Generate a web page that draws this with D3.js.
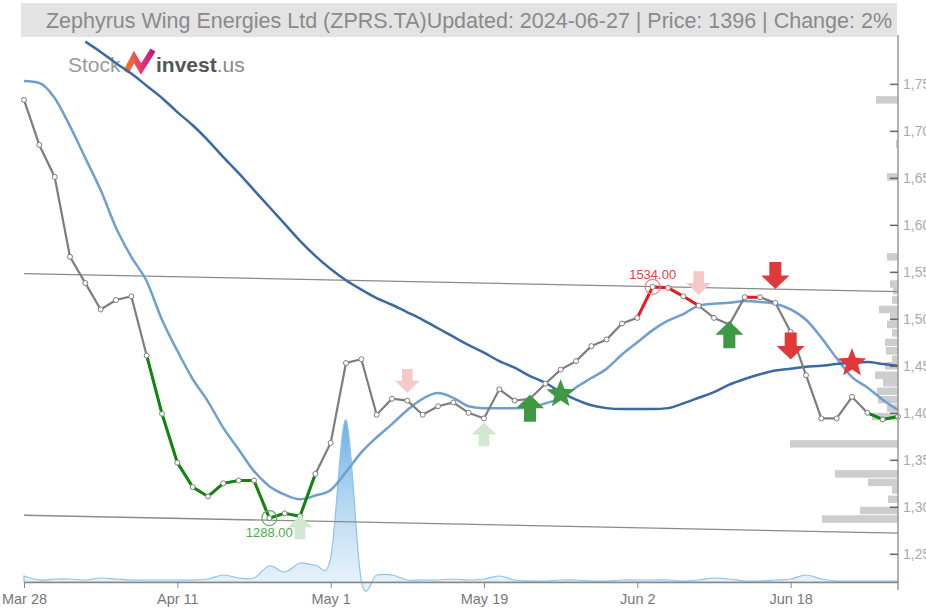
<!DOCTYPE html>
<html>
<head>
<meta charset="utf-8">
<script src="https://cdnjs.cloudflare.com/ajax/libs/d3/7.8.5/d3.min.js"></script>
<style>
  body { margin: 0; background: #fff; }
  svg { display: block; font-family: "Liberation Sans", Arial, sans-serif; }
</style>
</head>
<body>
<div id="chart"></div>
<script>
// Chart values
let titleText = "Zephyrus Wing Energies Ltd (ZPRS.TA)Updated: 2024-06-27 | Price: 1396 | Change: 2%";

// closing prices, one per trading day
let prices = [
  1733, 1685, 1651, 1566, 1538, 1510, 1520, 1524, 1461, 1399,
  1347, 1321, 1311, 1325, 1328, 1328, 1288, 1293, 1290, 1335,
  1368, 1453, 1457, 1398, 1415, 1413, 1398, 1407, 1411, 1400,
  1394, 1425, 1413, 1415, 1431, 1446, 1455, 1471, 1478, 1495,
  1501, 1534, 1533, 1524, 1514, 1501, 1494, 1523, 1523, 1517,
  1486, 1440, 1394, 1394, 1417, 1400, 1393, 1396
];

// short moving average (light blue)
let maShort = [
  1753, 1751, 1735, 1705, 1671, 1637, 1597, 1566, 1540, 1499,
  1466, 1436, 1412, 1384, 1361, 1338, 1322, 1313, 1308, 1312,
  1318, 1337, 1358, 1374, 1388, 1403, 1415, 1421, 1416, 1407,
  1405, 1405, 1405, 1406, 1410, 1416, 1427, 1437, 1447, 1462,
  1475, 1488, 1498, 1505, 1514, 1516, 1517, 1519, 1518, 1516,
  1510, 1499, 1480, 1458, 1438, 1427, 1414, 1403
];

// long moving average (dark blue), starts at day 4
let maLongStart = 4;
let maLong = [
  1795, 1784, 1772, 1761, 1748, 1735, 1720, 1706, 1690, 1672,
  1655, 1637, 1619, 1601, 1583, 1567, 1553, 1541, 1531, 1522,
  1515, 1507, 1499, 1490, 1481, 1472, 1464, 1455, 1448, 1439,
  1432, 1422, 1414, 1408, 1405, 1404, 1404, 1404, 1405, 1410,
  1416, 1422, 1430, 1436, 1441, 1445, 1447, 1449, 1450, 1452,
  1453, 1454, 1452, 1450
];

// daily volume (thousands)
let volumes = [
  6, 2, 3, 3, 2, 4, 3, 2, 2, 2,
  2, 2, 3, 7, 4, 4, 16, 10, 19, 17,
  24, 162, 1, 7, 7, 2, 2, 2, 3, 2,
  3, 6, 2, 1, 1, 2, 2, 1, 1, 2,
  2, 2, 2, 1, 2, 4, 3, 1, 1, 2,
  3, 7, 3, 1, 1, 1, 1, 1
];

let tickIndex = [0, 10, 20, 30, 40, 50];
let tickLabels = ["Mar 28", "Apr 11", "May 1", "May 19", "Jun 2", "Jun 18"];
let priceTicks = [1250, 1300, 1350, 1400, 1450, 1500, 1550, 1600, 1650, 1700, 1750];

// trend lines: price at first and last day
let trendUpper = [1548, 1529];
let trendLower = [1291, 1272];

// coloured stretches of the price line [from, to]
let greenRuns = [[8, 19], [55, 57]];
let redRuns = [[40, 44], [47, 48]];

// signals
let signalIdx = [18, 25, 30, 33, 35, 44, 46, 49, 50, 54];
let signalPrice = [1278, 1434, 1377, 1405, 1420, 1538, 1483, 1546, 1471, 1453];
let signalKind = ["buyWeak", "sellWeak", "buyWeak", "buy", "buyStar", "sellWeak", "buy", "sell", "sell", "sellStar"];

// volume profile on the right
let profilePrice = [1733, 1686, 1651, 1566, 1537, 1530, 1520, 1510, 1502, 1494, 1485, 1475, 1466, 1457,
  1450, 1440, 1432, 1423, 1414, 1405, 1396, 1367, 1335, 1326, 1318, 1308, 1296, 1287];
let profileVol = [22, 2, 11, 11, 8, 5, 6, 19, 8, 11, 6, 13, 12, 6,
  13, 23, 15, 21, 20, 11, 26, 108, 63, 30, 6, 10, 38, 76];

let lowIdx = 16;
let highIdx = 41;

// Layout
let width = 926;
let height = 610;
let plotLeft = 24, plotRight = 898, plotTop = 35, plotBottom = 582;

let svg = d3.select("#chart").append("svg")
  .attr("width", width)
  .attr("height", height);

let x = d3.scaleLinear().domain([0, prices.length - 1]).range([plotLeft, plotRight]);
let y = d3.scaleLinear().domain([1220, 1802]).range([plotBottom, plotTop]);
let vy = d3.scaleLinear().domain([0, d3.max(volumes)]).range([plotBottom, 420]);
let px = d3.scaleLinear().domain([0, d3.max(profileVol)]).range([plotRight, 790]);

let defs = svg.append("defs");
let vg = defs.append("linearGradient").attr("id", "volGrad")
  .attr("x1", 0).attr("y1", 0).attr("x2", 0).attr("y2", 1);
vg.append("stop").attr("offset", "0%").attr("stop-color", "#5aa6e2").attr("stop-opacity", 0.9);
vg.append("stop").attr("offset", "100%").attr("stop-color", "#d6e8f7").attr("stop-opacity", 0.5);

let lg = defs.append("linearGradient").attr("id", "logoGrad")
  .attr("x1", 0).attr("y1", 0).attr("x2", 1).attr("y2", 0);
lg.append("stop").attr("offset", "0%").attr("stop-color", "#f47b20");
lg.append("stop").attr("offset", "55%").attr("stop-color", "#e8366f");
lg.append("stop").attr("offset", "100%").attr("stop-color", "#c3168c");

// Title band
svg.append("rect")
  .attr("x", 21).attr("y", 3)
  .attr("width", 876).attr("height", 34)
  .attr("fill", "#e3e3e3");
svg.append("text")
  .attr("x", 892).attr("y", 28)
  .attr("text-anchor", "end")
  .attr("font-size", 21.5)
  .attr("fill", "#8a8a8a")
  .text(titleText);

// Logo
let logo = svg.append("g");
logo.append("text")
  .attr("x", 68).attr("y", 72)
  .attr("font-size", 21)
  .attr("fill", "#9a9a9a")
  .text("Stock");
logo.append("path")
  .attr("d", "M126,72 L134,57 L141,69 L153,50")
  .attr("fill", "none")
  .attr("stroke", "url(#logoGrad)")
  .attr("stroke-width", 6)
  .attr("stroke-linejoin", "miter");
let lt = logo.append("text")
  .attr("x", 156).attr("y", 72)
  .attr("font-size", 21);
lt.append("tspan").attr("font-weight", "bold").attr("fill", "#555").text("invest");
lt.append("tspan").attr("fill", "#8a8a8a").text(".us");

// Volume profile
svg.append("g").selectAll("rect")
  .data(profilePrice)
  .enter()
  .append("rect")
  .attr("x", (d, i) => px(profileVol[i]))
  .attr("y", d => y(d + 4))
  .attr("width", (d, i) => plotRight - px(profileVol[i]))
  .attr("height", d => y(d - 4) - y(d + 4))
  .attr("fill", "#cdcdcd");

// Volume area
let volArea = d3.area()
  .x((d, i) => x(i))
  .y0(plotBottom)
  .y1(d => vy(d))
  .curve(d3.curveCardinal);
svg.append("path")
  .datum(volumes)
  .attr("d", volArea)
  .attr("fill", "url(#volGrad)")
  .attr("stroke", "#8ec3ec")
  .attr("stroke-width", 1.2);

// Trend lines
[trendUpper, trendLower].forEach(t => {
  svg.append("line")
    .attr("x1", x(0)).attr("y1", y(t[0]))
    .attr("x2", x(prices.length - 1)).attr("y2", y(t[1]))
    .attr("stroke", "#8a8a8a")
    .attr("stroke-width", 1.3);
});

// Moving averages
let line = d3.line().x(d => x(d[0])).y(d => y(d[1])).curve(d3.curveMonotoneX);
svg.append("path")
  .datum(maShort.map((v, i) => [i, v]))
  .attr("d", line)
  .attr("fill", "none")
  .attr("stroke", "#6f9fd0")
  .attr("stroke-width", 2.5);
svg.append("path")
  .datum(maLong.map((v, i) => [i + maLongStart, v]))
  .attr("d", line)
  .attr("fill", "none")
  .attr("stroke", "#3a69a3")
  .attr("stroke-width", 2.5);

// Price line
let priceLine = d3.line().x(d => x(d[0])).y(d => y(d[1]));
let pts = prices.map((v, i) => [i, v]);
svg.append("path")
  .datum(pts)
  .attr("d", priceLine)
  .attr("fill", "none")
  .attr("stroke", "#7d7d7d")
  .attr("stroke-width", 2.2);
greenRuns.forEach(r => {
  svg.append("path")
    .datum(pts.slice(r[0], r[1] + 1))
    .attr("d", priceLine)
    .attr("fill", "none")
    .attr("stroke", "#0c870c")
    .attr("stroke-width", 3);
});
redRuns.forEach(r => {
  svg.append("path")
    .datum(pts.slice(r[0], r[1] + 1))
    .attr("d", priceLine)
    .attr("fill", "none")
    .attr("stroke", "#f01818")
    .attr("stroke-width", 3);
});
svg.append("g").selectAll("circle")
  .data(pts)
  .enter()
  .append("circle")
  .attr("cx", d => x(d[0]))
  .attr("cy", d => y(d[1]))
  .attr("r", 2.5)
  .attr("fill", "#fff")
  .attr("stroke", "#7d7d7d")
  .attr("stroke-width", 1);

// Low / high marks
svg.append("circle")
  .attr("cx", x(lowIdx)).attr("cy", y(prices[lowIdx])).attr("r", 7.5)
  .attr("fill", "none").attr("stroke", "#5cae5c").attr("stroke-width", 1.2);
svg.append("text")
  .attr("x", x(lowIdx)).attr("y", y(prices[lowIdx]) + 19)
  .attr("text-anchor", "middle").attr("font-size", 13).attr("fill", "#4fa84f")
  .text(prices[lowIdx].toFixed(2));
svg.append("circle")
  .attr("cx", x(highIdx)).attr("cy", y(prices[highIdx])).attr("r", 7.5)
  .attr("fill", "none").attr("stroke", "#f08080").attr("stroke-width", 1.2);
svg.append("text")
  .attr("x", x(highIdx)).attr("y", y(prices[highIdx]) - 8)
  .attr("text-anchor", "middle").attr("font-size", 13).attr("fill", "#ee4040")
  .text(prices[highIdx].toFixed(2));

// Signals
function arrowPath(s, dir) {
  let p = [[0, -13.5], [14, 0], [6, 0], [6, 13.5], [-6, 13.5], [-6, 0], [-14, 0]];
  return "M" + p.map(q => [q[0] * s, q[1] * s * dir].join(",")).join("L") + "Z";
}
function starPath(ro, ri) {
  let p = [];
  for (let k = 0; k < 10; k++) {
    let a = -Math.PI / 2 + k * Math.PI / 5;
    let r = k % 2 ? ri : ro;
    p.push([r * Math.cos(a), r * Math.sin(a)].join(","));
  }
  return "M" + p.join("L") + "Z";
}
let kindStyle = {
  buyWeak: { d: arrowPath(0.88, 1), fill: "#cfe8cf" },
  sellWeak: { d: arrowPath(0.88, -1), fill: "#f7c8c8" },
  buy: { d: arrowPath(1, 1), fill: "#3d9a42" },
  sell: { d: arrowPath(1, -1), fill: "#e0393a" },
  buyStar: { d: starPath(15, 6.5), fill: "#3d9a42" },
  sellStar: { d: starPath(15, 6.5), fill: "#e0393a" }
};
svg.append("g").selectAll("path")
  .data(signalIdx)
  .enter()
  .append("path")
  .attr("transform", (d, i) => `translate(${x(d)},${y(signalPrice[i])})`)
  .attr("d", (d, i) => kindStyle[signalKind[i]].d)
  .attr("fill", (d, i) => kindStyle[signalKind[i]].fill);

// Bottom axis
let xAxis = d3.axisBottom(x)
  .tickValues(tickIndex)
  .tickFormat((d, i) => tickLabels[i])
  .tickSizeInner(6)
  .tickSizeOuter(0)
  .tickPadding(6);
let gx = svg.append("g")
  .attr("transform", `translate(0,${plotBottom})`)
  .call(xAxis);
gx.select(".domain").attr("stroke", "#888").attr("stroke-width", 1.5);
gx.selectAll(".tick line").attr("stroke", "#888");
gx.selectAll(".tick text")
  .attr("font-size", 14.5)
  .attr("fill", "#777")
  .attr("font-family", "Liberation Sans, Arial, sans-serif");

// Right axis
svg.append("line")
  .attr("x1", plotRight).attr("x2", plotRight)
  .attr("y1", plotTop).attr("y2", 590)
  .attr("stroke", "#999").attr("stroke-width", 1.5);
let yAxis = d3.axisRight(y)
  .tickValues(priceTicks)
  .tickFormat(d3.format(","))
  .tickSizeInner(-8)
  .tickSizeOuter(0)
  .tickPadding(5);
let gy = svg.append("g")
  .attr("transform", `translate(${plotRight},0)`)
  .call(yAxis);
gy.select(".domain").remove();
gy.selectAll(".tick line").attr("stroke", "#666").attr("stroke-width", 1.5);
gy.selectAll(".tick text")
  .attr("x", 5)
  .attr("font-size", 14)
  .attr("fill", "#aaa")
  .attr("font-family", "Liberation Sans, Arial, sans-serif");
</script>
</body>
</html>
